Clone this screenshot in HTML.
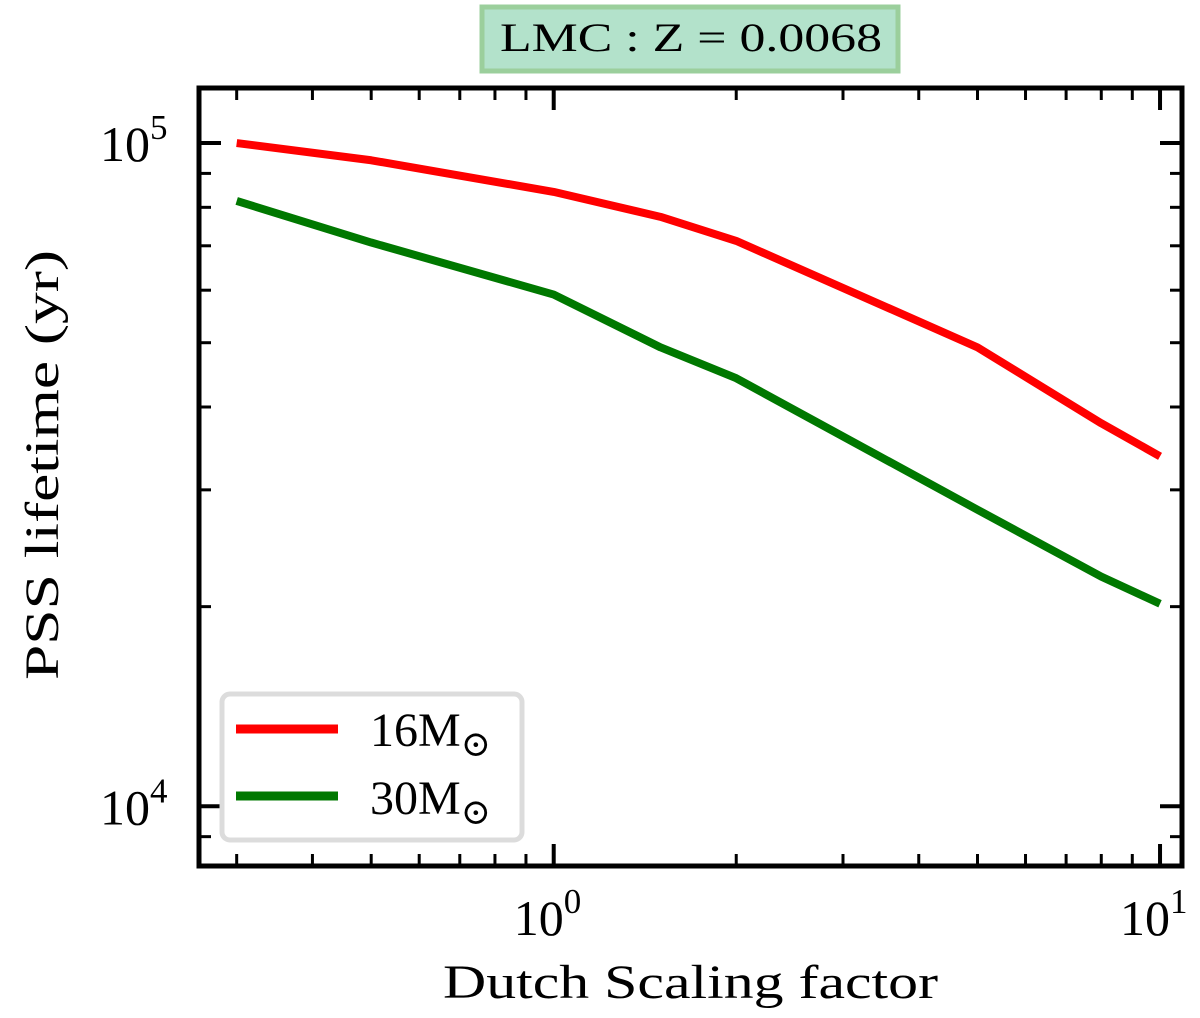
<!DOCTYPE html>
<html><head><meta charset="utf-8"><style>
body{margin:0;background:#fff;}
svg{display:block;font-family:"Liberation Serif","DejaVu Serif",serif;}
</style></head><body>
<svg id="c" width="1200" height="1018" viewBox="0 0 1200 1018">
<rect x="482" y="7" width="416" height="64" fill="#b3e2cb" stroke="#9bcf9c" stroke-width="5"/>
<text x="500" y="51" font-size="40" textLength="382" lengthAdjust="spacingAndGlyphs">LMC : Z = 0.0068</text>
<g id="plot"></g>
<text x="443" y="998" font-size="48" textLength="495" lengthAdjust="spacingAndGlyphs">Dutch Scaling factor</text>
<text transform="translate(58,680) rotate(-90)" font-size="48" textLength="430" lengthAdjust="spacingAndGlyphs">PSS lifetime (yr)</text>
<g>
<rect x="222" y="694" width="300" height="146" rx="8" fill="#fff" stroke="#dcdcdc" stroke-width="5"/>
<line x1="236" y1="729" x2="338" y2="729" stroke="#ff0000" stroke-width="9"/>
<text x="370" y="746" font-size="48">16M<tspan font-size="36" dy="10">⊙</tspan></text>
<line x1="236" y1="796" x2="338" y2="796" stroke="#007800" stroke-width="9"/>
<text x="370" y="814" font-size="48">30M<tspan font-size="36" dy="10">⊙</tspan></text>
</g>
</svg>
<script>
const xValues=[0.3,0.5,1,1.5,2,5,8,10];
const series16=[100000,94200,84400,77400,71200,49200,37800,33700];
const series30=[81800,70800,59100,49200,44200,28000,22200,20200];
const xTickLabels=["10","10"];
const xTickExps=["0","1"];
const yTickLabels=["10","10"];
const yTickExps=["4","5"];
const L=199,R=1182,T=88,B=866;
const xmin=Math.log10(0.26),xmax=Math.log10(10.87),ymin=3.91,ymax=5.083;
const X=v=>L+(Math.log10(v)-xmin)/(xmax-xmin)*(R-L);
const Y=v=>B-(Math.log10(v)-ymin)/(ymax-ymin)*(B-T);
const ns="http://www.w3.org/2000/svg",g=document.getElementById('plot');
function mk(t,a){const e=document.createElementNS(ns,t);for(const k in a)e.setAttribute(k,a[k]);g.appendChild(e);return e;}
function line(x1,y1,x2,y2,w,name){const e=mk('line',{x1,y1,x2,y2,stroke:'#000','stroke-width':w});

}
for(let d=0.1;d<=10;d*=10){for(let m=1;m<10;m++){const v=d*m;if(v<0.26||v>10.87)continue;const x=X(v);const len=m==1?22:12;const w=m==1?4:3;
line(x,B,x,B-len,w,'x-tick');line(x,T,x,T+len,w,'x-tick-top');}}
for(let e=3;e<=5;e++){for(let m=1;m<10;m++){const v=Math.pow(10,e)*m;const lv=Math.log10(v);if(lv<ymin||lv>ymax)continue;const y=Y(v);const len=m==1?22:12;const w=m==1?4:3;
line(L,y,L+len,y,w,'y-tick');line(R,y,R-len,y,w,'y-tick-right');}}
[1,10].forEach((v,i)=>{const t=mk('text',{x:X(v)-40,y:935,'font-size':50});


t.innerHTML=xTickLabels[i]+'<tspan font-size="35" dy="-22">'+xTickExps[i]+'</tspan>';});
[1e4,1e5].forEach((v,i)=>{const t=mk('text',{x:100,y:Y(v)+18,'font-size':50});


t.innerHTML=yTickLabels[i]+'<tspan font-size="35" dy="-22">'+yTickExps[i]+'</tspan>';});
function series(vals,col,name){const p=mk('polyline',{points:xValues.map((x,i)=>X(x)+','+Y(vals[i])).join(' '),fill:'none',stroke:col,'stroke-width':8,'stroke-linejoin':'round'});

}
series(series16,'#ff0000','line-16msun');
series(series30,'#007800','line-30msun');
const fr=mk('rect',{x:L,y:T,width:R-L,height:B-T,fill:'none',stroke:'#000','stroke-width':5});


</script>
</body></html>
